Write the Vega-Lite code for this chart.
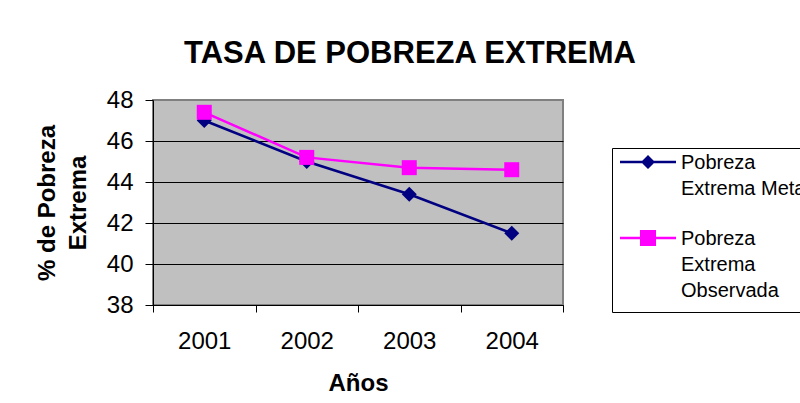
{
  "$schema": "https://vega.github.io/schema/vega-lite/v6.json",
  "width": 410,
  "height": 205,
  "autosize": {"type": "none"},
  "padding": {"left": 153, "top": 100, "right": 237, "bottom": 98},
  "background": "white",
  "title": {"text": "TASA DE POBREZA EXTREMA", "font": "Liberation Sans", "fontSize": 31, "fontWeight": "bold", "color": "black", "anchor": "middle", "frame": "group", "dx": 52, "baseline": "alphabetic", "offset": -6},
  "data": {"values": [
    {"anio": "2001", "serie": "Pobreza Extrema Meta", "valor": 47.0},
    {"anio": "2002", "serie": "Pobreza Extrema Meta", "valor": 45.0},
    {"anio": "2003", "serie": "Pobreza Extrema Meta", "valor": 43.4},
    {"anio": "2004", "serie": "Pobreza Extrema Meta", "valor": 41.5},
    {"anio": "2001", "serie": "Pobreza Extrema Observada", "valor": 47.4},
    {"anio": "2002", "serie": "Pobreza Extrema Observada", "valor": 45.2},
    {"anio": "2003", "serie": "Pobreza Extrema Observada", "valor": 44.7},
    {"anio": "2004", "serie": "Pobreza Extrema Observada", "valor": 44.6}
  ]},
  "encoding": {
    "x": {"field": "anio", "type": "ordinal", "scale": {"type": "band", "paddingInner": 0, "paddingOuter": 0},
      "axis": {"title": "Años", "labelAngle": 0, "tickBand": "extent", "tickSize": 7, "tickColor": "black", "domainColor": "black", "labelFont": "Liberation Sans", "labelFontSize": 24, "labelColor": "black", "labelBaseline": "alphabetic", "labelPadding": 36, "titleFont": "Liberation Sans", "titleFontSize": 24, "titleFontWeight": "bold", "titleColor": "black", "titlePadding": 18, "grid": false}},
    "y": {"field": "valor", "type": "quantitative", "scale": {"domain": [38, 48], "nice": false, "zero": false},
      "axis": {"title": ["% de Pobreza", "Extrema"], "values": [38, 40, 42, 44, 46, 48], "tickSize": 8, "tickColor": "black", "domainColor": "black", "labelFont": "Liberation Sans", "labelPadding": 12, "labelFontSize": 24, "labelColor": "black", "grid": true, "gridColor": {"condition": {"test": "datum.value == 48", "value": "#808080"}, "value": "black"}, "gridWidth": 1, "titleFont": "Liberation Sans", "titleFontSize": 24, "titleFontWeight": "bold", "titleColor": "black", "titleLineHeight": 31, "titlePadding": 16}}
  },
  "layer": [
    {
      "transform": [{"filter": "datum.serie == 'Pobreza Extrema Meta'"}],
      "mark": {"type": "line", "strokeWidth": 2.5, "color": "#000080"},
      "encoding": {}
    },
    {
      "transform": [{"filter": "datum.serie == 'Pobreza Extrema Observada'"}],
      "mark": {"type": "line", "strokeWidth": 2.5, "color": "#ff00ff"},
      "encoding": {}
    },
    {
      "transform": [{"filter": "datum.serie == 'Pobreza Extrema Meta'"}],
      "mark": {"type": "point", "shape": "diamond", "filled": true, "size": 225, "color": "#000080", "opacity": 1}
    },
    {
      "transform": [{"filter": "datum.serie == 'Pobreza Extrema Observada'"}],
      "mark": {"type": "point", "shape": "square", "filled": true, "size": 225, "color": "#ff00ff", "opacity": 1}
    },
    {
      "transform": [{"filter": "false"}],
      "mark": {"type": "point", "filled": true, "opacity": 1},
      "encoding": {
        "color": {"field": "serie", "type": "nominal", "scale": {"domain": ["Pobreza Extrema Meta", "Pobreza Extrema Observada"], "range": ["#000080", "#ff00ff"]},
          "legend": {"orient": "none", "legendX": 459, "legendY": 48, "title": null, "strokeColor": "black", "fillColor": "white", "padding": 11, "symbolSize": 4, "symbolOffset": 15, "symbolStrokeWidth": 0, "labelOffset": 23, "labelFont": "Liberation Sans", "labelFontSize": 20, "labelColor": "black", "labelBaseline": "alphabetic", "labelLimit": 400, "rowPadding": 30,
            "labelExpr": "datum.label == 'Pobreza Extrema Meta' ? ['Pobreza', 'Extrema Meta'] : ['Pobreza', 'Extrema', 'Observada']"}},
        "shape": {"field": "serie", "type": "nominal", "scale": {"domain": ["Pobreza Extrema Meta", "Pobreza Extrema Observada"], "range": ["M-28,-8.25H28V-5.75H-28Z M0,-14L7,-7L0,0L-7,-7Z", "M-28,-8.25H28V-5.75H-28Z M-8,-15H8V1H-8Z"]}}
      }
    }
  ],
  "config": {
    "font": "Liberation Sans",
    "view": {"fill": "#c0c0c0", "stroke": "#808080", "strokeWidth": 2},
    "style": {"guide-label": {"lineHeight": 26}}
  }
}
